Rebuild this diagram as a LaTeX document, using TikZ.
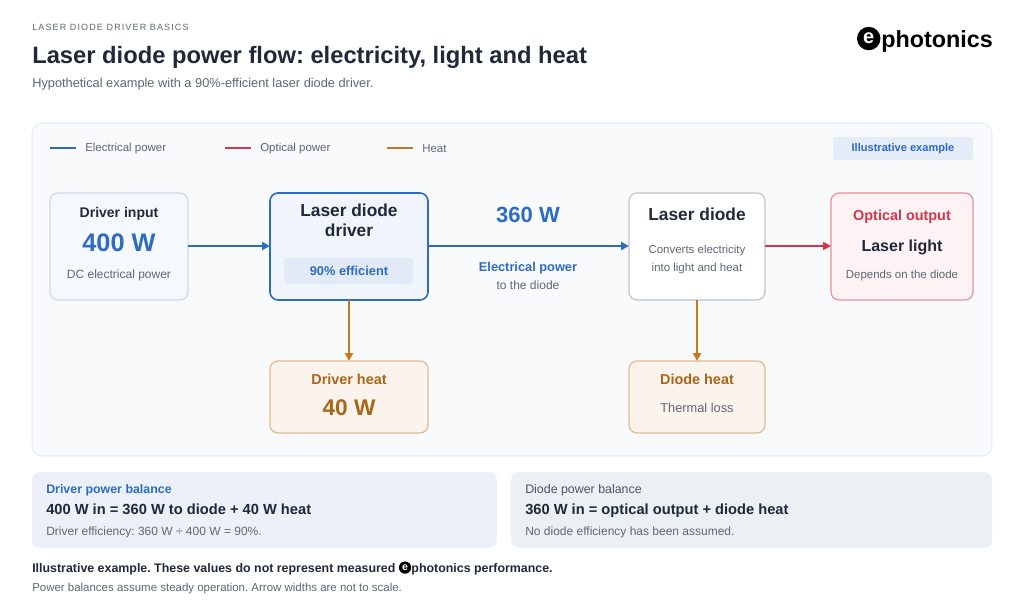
\documentclass[tikz,border=0pt]{standalone}
\usepackage{fontspec}
\setmainfont{Liberation Sans}
\usetikzlibrary{positioning,arrows.meta}
\definecolor{elec}{HTML}{2E6BC4}
\definecolor{opt}{HTML}{D9344A}
\definecolor{heat}{HTML}{C7781E}
\definecolor{ink}{HTML}{1F2937}
\definecolor{muted}{HTML}{5F6773}
\definecolor{panel}{HTML}{F8FAFC}
\definecolor{rim}{HTML}{DCE3EC}
\tikzset{
  px/.style={x=0.75pt,y=-0.75pt},
  box/.style={draw=#1,rounded corners=6pt,line width=0.9pt},
  flow/.style={line width=2pt,-{Triangle[length=6pt,width=6pt]}},
  txt/.style={inner sep=0pt,anchor=base},
}
\newcommand{\fs}[1]{\fontsize{#1}{#1}\selectfont}
% logo mark: black disc with a white e
\newcommand{\emark}[2]{\tikz[baseline=0pt,x=1pt,y=1pt]{\fill[black] (0pt,#1*0.72) circle[radius=#1];
  \node[white,inner sep=0pt,anchor=center] at (0pt,#1*0.78) {\bfseries\fs{#2}e};}}
\frenchspacing
\begin{document}
\begin{tikzpicture}[px]
\useasboundingbox[fill=white] (0,0) rectangle (1024,614);

% header
\node[txt,anchor=base west,text=muted] (kicker) at (32,31) {\fs{6.8}\addfontfeatures{LetterSpace=12}LASER DIODE DRIVER BASICS};
\node[txt,anchor=base west,text=ink] (title) at (32,63) {\bfseries\fs{17.8}Laser diode power flow: electricity, light and heat};
\node[txt,anchor=base west,text=muted] (sub) at (32,87) {\fs{9.6}Hypothetical example with a 90\%-efficient laser diode driver.};
\node[txt,anchor=base east,text=black] (logo) at (993,47) {\emark{8.8pt}{15}\kern0.6pt\bfseries\fs{17.5}photonics};

% main panel
\draw[fill=panel,draw=rim,rounded corners=8pt] (32,123) rectangle (992,456);

% legend
\draw[elec,line width=2pt] (50,148) coordinate (le1) -- (76,148) coordinate (le2);
\node[txt,anchor=west,text=muted] at (85,149) {\fs{8.6}Electrical power};
\draw[opt,line width=2pt] (225,148) coordinate (lo1) -- (251,148) coordinate (lo2);
\node[txt,anchor=west,text=muted] at (260,149) {\fs{8.6}Optical power};
\draw[heat,line width=2pt] (387,148) coordinate (lh1) -- (413,148) coordinate (lh2);
\node[txt,anchor=west,text=muted] at (422,149) {\fs{8.6}Heat};
\draw[fill=elec!13,draw=none,rounded corners=2pt] (833,137) rectangle (973,160);
\node[txt,anchor=center,text=elec] (badge) at (903,149) {\bfseries\fs{8.3}Illustrative example};

% boxes
\draw[box=elec!25,fill=elec!5] (50,193) rectangle (188,300);
\node[txt,text=ink] (inT) at (119,217) {\bfseries\fs{10.5}Driver input};
\node[txt,text=elec] (inV) at (119,251) {\bfseries\fs{19}400 W};
\node[txt,text=muted] (inS) at (119,278) {\fs{9}DC electrical power};

\draw[box=elec,line width=1.2pt,fill=elec!7] (270,193) rectangle (428,300);
\node[txt,text=ink] (drT) at (349,216) {\bfseries\fs{13}Laser diode};
\node[txt,text=ink] (drT2) at (349,236) {\bfseries\fs{13}driver};
\draw[fill=elec!14,draw=none,rounded corners=3pt] (284,258) rectangle (413,284);
\node[txt,text=elec] (drE) at (349,275) {\bfseries\fs{9.6}90\% efficient};

\draw[box=rim!70!gray,fill=white] (629,193) rectangle (765,300);
\node[txt,text=ink] (ldT) at (697,220) {\bfseries\fs{13}Laser diode};
\node[txt,text=muted] (ldS1) at (697,253) {\fs{8.6}Converts electricity};
\node[txt,text=muted] (ldS2) at (697,271) {\fs{8.6}into light and heat};

\draw[box=opt!55,fill=opt!6] (831,193) rectangle (973,300);
\node[txt,text=opt] (opT) at (902,220) {\bfseries\fs{10.8}Optical output};
\node[txt,text=ink] (opV) at (902,251) {\bfseries\fs{12}Laser light};
\node[txt,text=muted] (opS) at (902,278) {\fs{8.6}Depends on the diode};

\draw[box=heat!50,fill=heat!8] (270,361) rectangle (428,433);
\node[txt,text=heat!85!black] (dhT) at (349,384) {\bfseries\fs{10.8}Driver heat};
\node[txt,text=heat!85!black] (dhV) at (349,415) {\bfseries\fs{17}40 W};

\draw[box=heat!50,fill=heat!8] (629,361) rectangle (765,433);
\node[txt,text=heat!85!black] (lhT) at (697,384) {\bfseries\fs{10.8}Diode heat};
\node[txt,text=muted] (lhS) at (697,412) {\fs{9.6}Thermal loss};

% connectors
\coordinate (a1) at (188,246); \coordinate (a2) at (270,246);
\coordinate (b1) at (428,246); \coordinate (b2) at (629,246);
\coordinate (c1) at (765,246); \coordinate (c2) at (831,246);
\coordinate (d1) at (349,300); \coordinate (d2) at (349,361);
\coordinate (e1) at (697,300); \coordinate (e2) at (697,361);
\draw[flow,elec] (a1) -- (a2);
\draw[flow,elec] (b1) -- (b2);
\draw[flow,opt] (c1) -- (c2);
\draw[flow,heat] (d1) -- (d2);
\draw[flow,heat] (e1) -- (e2);
\node[txt,text=elec] (mid) at (528,222) {\bfseries\fs{16.5}360 W};
\node[txt,text=elec] (midL) at (528,271) {\bfseries\fs{9.6}Electrical power};
\node[txt,text=muted] (midS) at (528,289) {\fs{9}to the diode};

% balances
\draw[fill=elec!6!panel,draw=none,rounded corners=6pt] (32,472) rectangle (497,548);
\node[txt,anchor=base west,text=elec] (b1T) at (46,493) {\bfseries\fs{9.3}Driver power balance};
\node[txt,anchor=base west,text=ink] (b1V) at (46,514) {\bfseries\fs{11}400 W in = 360 W to diode + 40 W heat};
\node[txt,anchor=base west,text=muted] (b1S) at (46,535) {\fs{9}Driver efficiency: 360 W ÷ 400 W = 90\%.};
\draw[fill=rim!45!panel,draw=none,rounded corners=6pt] (511,472) rectangle (992,548);
\node[txt,anchor=base west,text=muted!80!black] (b2T) at (525,493) {\fs{9.3}Diode power balance};
\node[txt,anchor=base west,text=ink] (b2V) at (525,514) {\bfseries\fs{11}360 W in = optical output + diode heat};
\node[txt,anchor=base west,text=muted] (b2S) at (525,535) {\fs{9}No diode efficiency has been assumed.};

% footer
\node[txt,anchor=base west,text=ink] (f1) at (32,572) {\bfseries\fs{9.3}Illustrative example. These values do not represent measured \emark{4.6pt}{8}\kern0.2pt photonics performance.};
\node[txt,anchor=base west,text=muted] (f2) at (32,591) {\fs{8.6}Power balances assume steady operation. Arrow widths are not to scale.};
\end{tikzpicture}
\end{document}
